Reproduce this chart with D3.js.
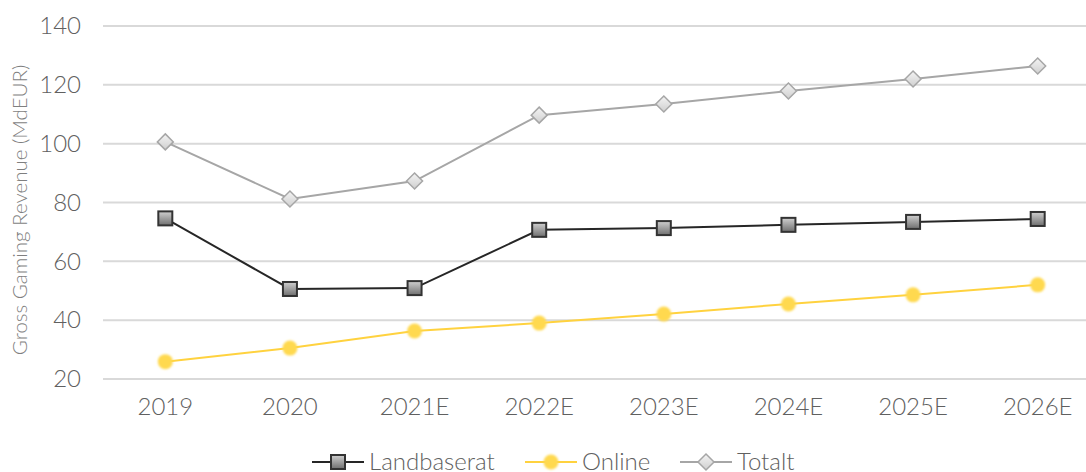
<!DOCTYPE html>
<html>
<head>
<meta charset="utf-8">
<script src="https://cdn.jsdelivr.net/npm/d3@7"></script>
<style>
	body { margin: 0; background: #fff; }
	svg { display: block; font-family: Lato, sans-serif; }
</style>
</head>
<body>
<main></main>
<script>
const years = ['2019', '2020', '2021E', '2022E', '2023E', '2024E', '2025E', '2026E']
const landbaserat = [74.6, 50.6, 50.9, 70.7, 71.3, 72.4, 73.4, 74.4]
const online = [25.9, 30.5, 36.3, 39.0, 42.1, 45.5, 48.6, 52.0]
const totalt = [100.6, 81.2, 87.3, 109.7, 113.5, 117.9, 122.0, 126.4]
const yTicks = [20, 40, 60, 80, 100, 120, 140]

const width = 1086
const height = 472

const svg = d3.select('main')
	.append('svg')
	.attr('width', width)
	.attr('height', height)

const defs = svg.append('defs')
const sq = defs.append('linearGradient').attr('id', 'sqGrad').attr('x1', 0).attr('y1', 0).attr('x2', 0).attr('y2', 1)
sq.append('stop').attr('offset', '0%').attr('stop-color', '#d0d0d0')
sq.append('stop').attr('offset', '100%').attr('stop-color', '#6f6f6f')
const dm = defs.append('linearGradient').attr('id', 'dmGrad').attr('x1', 0).attr('y1', 0).attr('x2', 0).attr('y2', 1)
dm.append('stop').attr('offset', '0%').attr('stop-color', '#f4f4f4')
dm.append('stop').attr('offset', '100%').attr('stop-color', '#cfcfcf')
const blur = defs.append('filter').attr('id', 'soft').attr('x', '-50%').attr('y', '-50%').attr('width', '200%').attr('height', '200%')
blur.append('feGaussianBlur').attr('stdDeviation', 0.9)

// Scales
const xScale = d3.scaleBand()
	.domain(years)
	.range([103, 1100])

const yScale = d3.scaleLinear()
	.domain([20, 140])
	.range([379, 26])

const cx = d => xScale(d) + xScale.bandwidth() / 2

// Gridlines
svg.append('g')
	.selectAll('line')
	.data(yTicks)
	.enter()
	.append('line')
	.attr('x1', 103)
	.attr('x2', width)
	.attr('y1', d => yScale(d))
	.attr('y2', d => yScale(d))
	.attr('stroke', '#d9d9d9')
	.attr('stroke-width', 2)

const styleText = g => g.selectAll('text')
	.attr('font-size', 24)
	.attr('fill', '#606060')
	.attr('font-weight', 300)
	.attr('font-family', 'Lato')

// Y-Axis
const yAxis = d3.axisLeft(yScale).tickValues(yTicks).tickSize(0).tickPadding(0)
svg.append('g')
	.attr('transform', 'translate(81,0)')
	.call(yAxis)
	.call(g => g.select('.domain').remove())
	.call(styleText)

// X-Axis
const xAxis = d3.axisBottom(xScale).tickSize(0).tickPadding(0)
svg.append('g')
	.attr('transform', 'translate(0,398)')
	.call(xAxis)
	.call(g => g.select('.domain').remove())
	.call(styleText)

svg.append('text')
	.attr('transform', 'translate(27,210) rotate(-90)')
	.attr('text-anchor', 'middle')
	.attr('font-size', 20.5)
	.attr('font-weight', 300)
	.attr('fill', '#7f7f7f')
	.text('Gross Gaming Revenue (MdEUR)')

const line = d3.line().x((d, i) => cx(years[i])).y(d => yScale(d))

const series = [
	{ name: 'Totalt', values: totalt, color: '#a6a6a6', marker: 'diamond' },
	{ name: 'Landbaserat', values: landbaserat, color: '#262626', marker: 'square' },
	{ name: 'Online', values: online, color: '#ffd23f', marker: 'circle' },
]

const drawMarker = (g, type, x, y) => {
	if (type === 'square') {
		g.append('rect')
			.attr('x', x - 7).attr('y', y - 7)
			.attr('width', 14).attr('height', 14)
			.attr('fill', 'url(#sqGrad)')
			.attr('stroke', '#333')
			.attr('stroke-width', 2)
	} else if (type === 'diamond') {
		g.append('path')
			.attr('d', `M${x},${y - 8}L${x + 8},${y}L${x},${y + 8}L${x - 8},${y}Z`)
			.attr('fill', 'url(#dmGrad)')
			.attr('stroke', '#a6a6a6')
			.attr('stroke-width', 1.5)
	} else {
		g.append('circle')
			.attr('cx', x).attr('cy', y).attr('r', 7.5)
			.attr('fill', '#ffd94f')
			.attr('filter', 'url(#soft)')
	}
}

series.forEach(s => {
	svg.append('path')
		.datum(s.values)
		.attr('d', line)
		.attr('fill', 'none')
		.attr('stroke', s.color)
		.attr('stroke-width', 2)
	const g = svg.append('g')
	s.values.forEach((v, i) => drawMarker(g, s.marker, cx(years[i]), yScale(v)))
})

// Legend
const legendItems = [
	{ s: series[1], x: 312 },
	{ s: series[2], x: 525 },
	{ s: series[0], x: 680 },
]
const legend = svg.append('g').attr('id', 'legend')
legendItems.forEach(({ s, x }) => {
	legend.append('line')
		.attr('x1', x).attr('x2', x + 52)
		.attr('y1', 462).attr('y2', 462)
		.attr('stroke', s.color)
		.attr('stroke-width', 2)
	drawMarker(legend, s.marker, x + 26, 462)
	legend.append('text')
		.attr('x', x + 57)
		.attr('y', 470)
		.attr('font-size', 24)
		.attr('font-weight', 300)
		.attr('fill', '#606060')
		.text(s.name)
})
</script>
</body>
</html>
